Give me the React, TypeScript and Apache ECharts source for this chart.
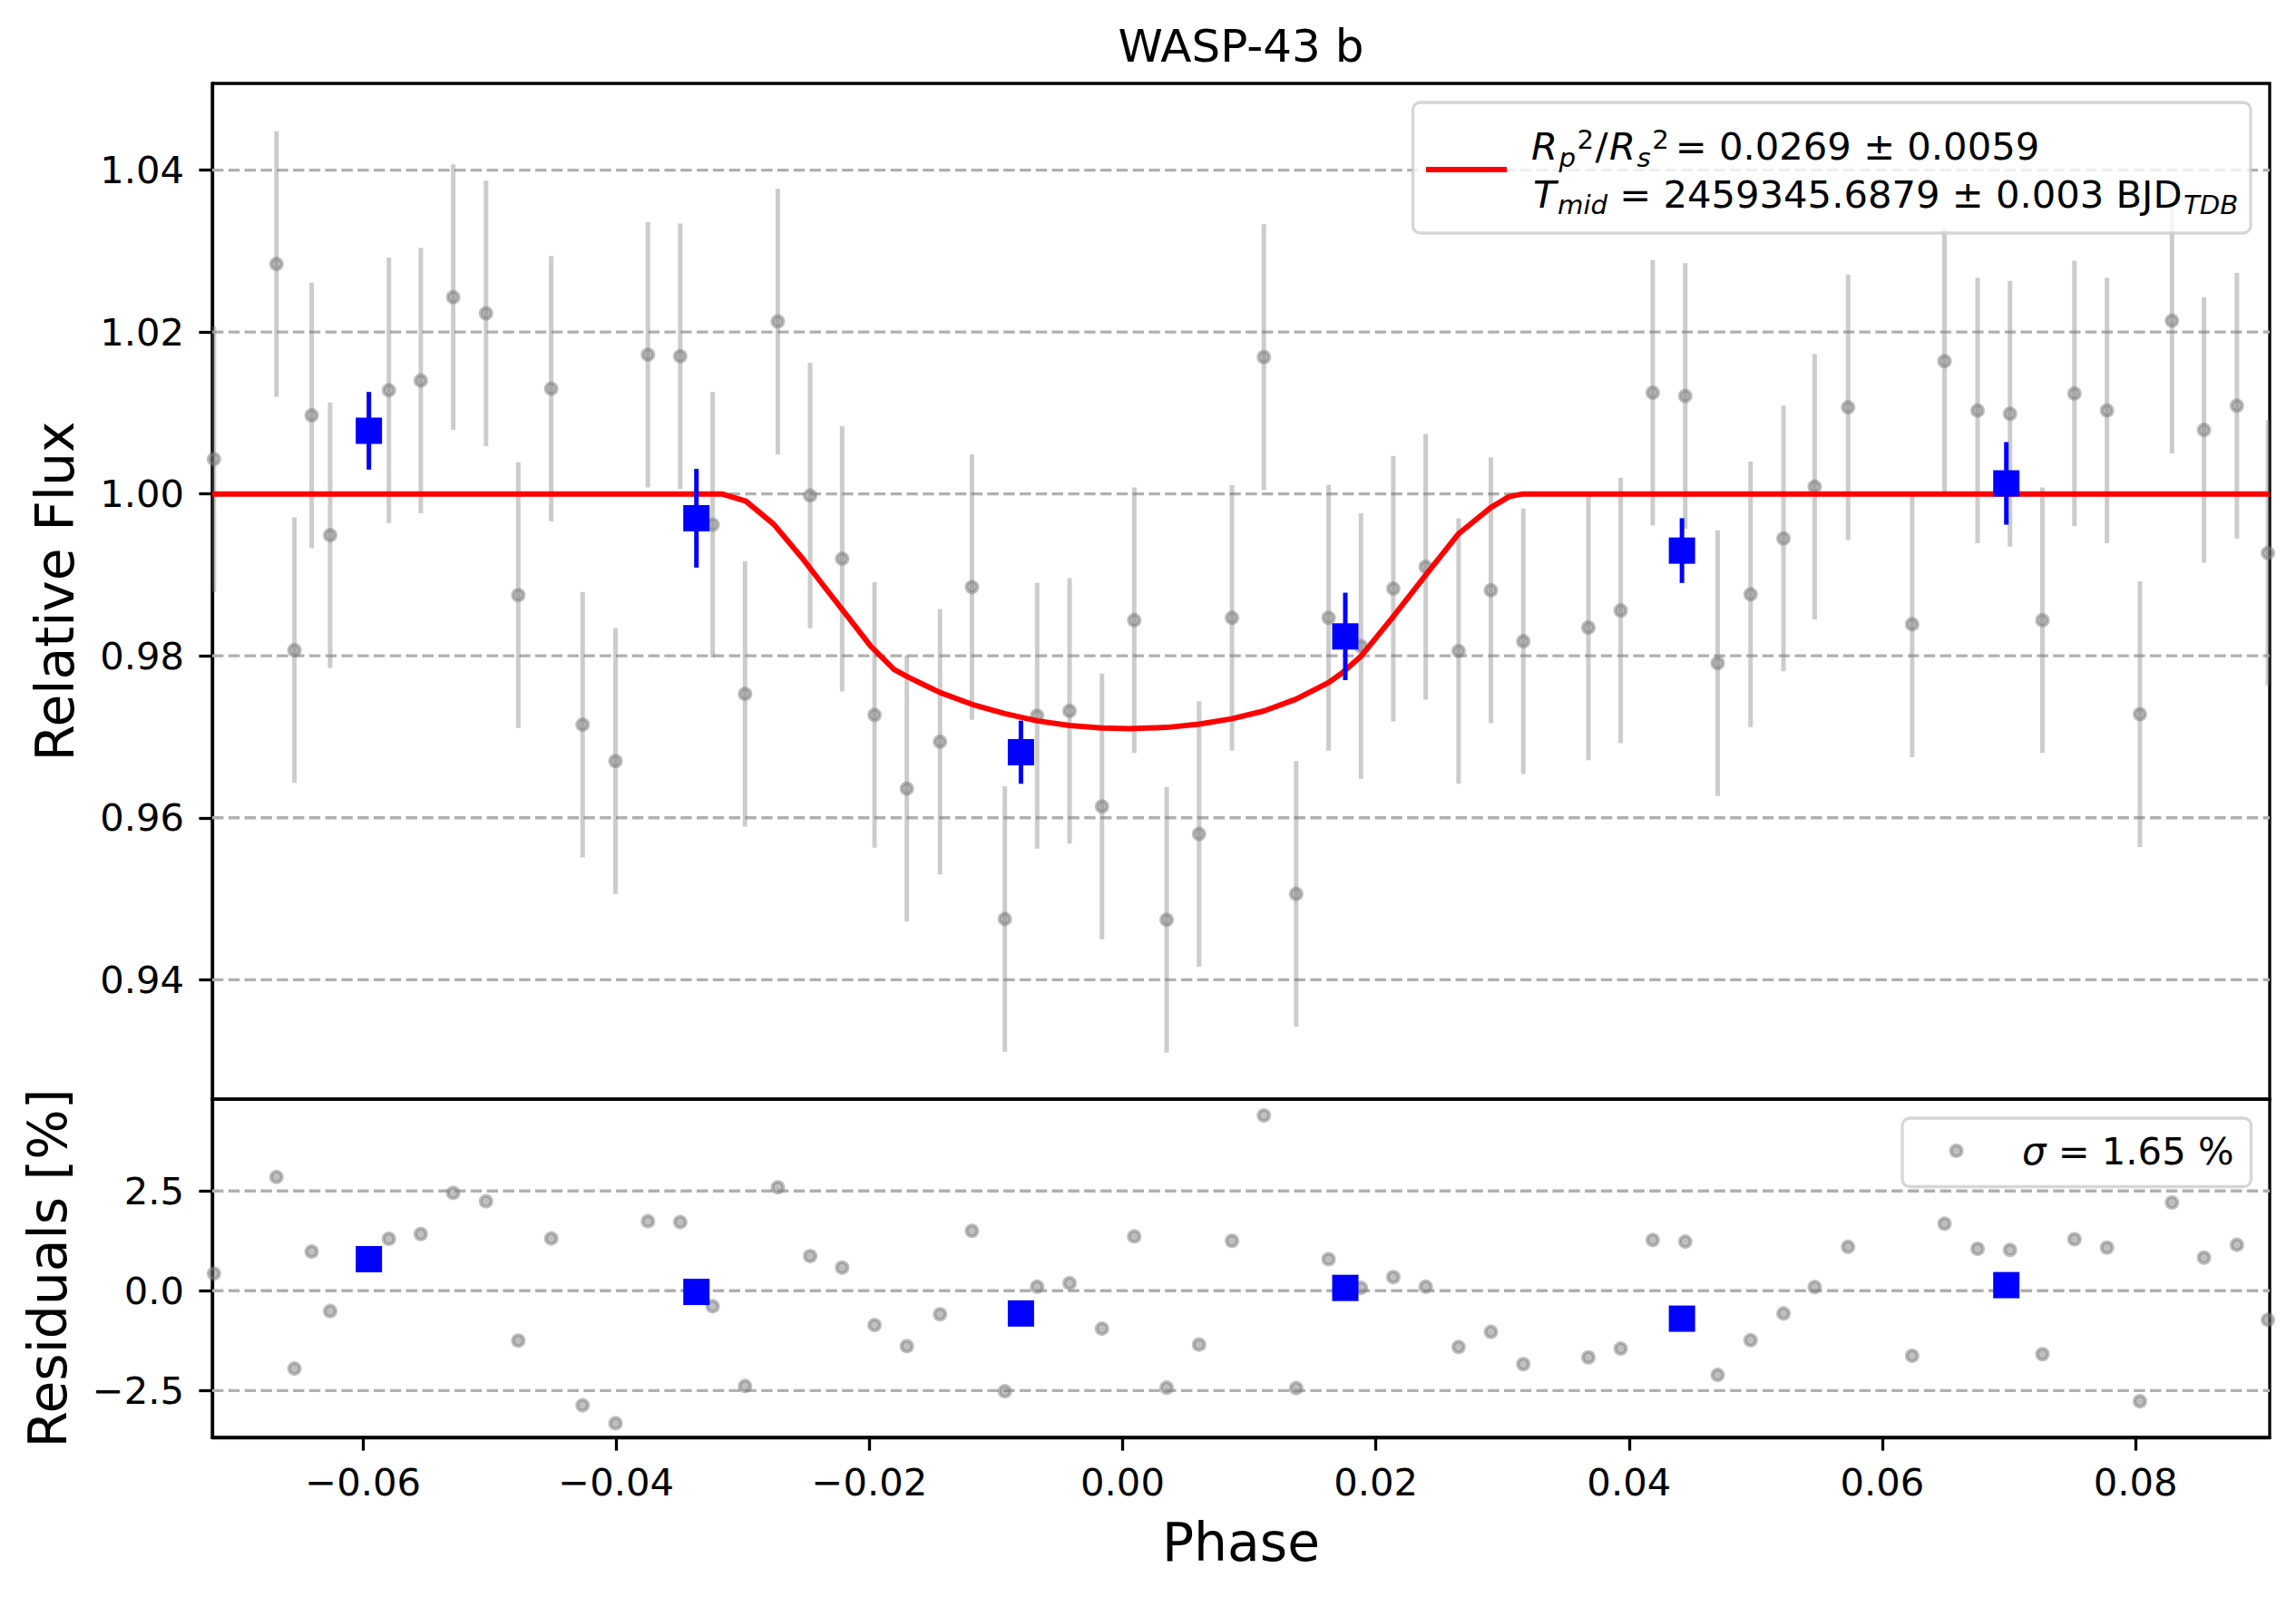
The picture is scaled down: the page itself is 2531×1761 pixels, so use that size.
import React, { useEffect, useRef } from "react";
import * as echarts from "echarts";

// ---------- data ----------
const phase = [
  -0.07177, -0.06683, -0.06541, -0.06405, -0.06259, -0.05795, -0.05543, -0.05287,
  -0.05028, -0.04773, -0.04513, -0.04265, -0.04005, -0.03749, -0.03494, -0.03238,
  -0.02982, -0.02723, -0.02468, -0.02215, -0.01959, -0.01704, -0.01442, -0.0119,
  -0.0093, -0.00675, -0.00419, -0.00163, 0.00092, 0.00348, 0.00604, 0.00864,
  0.01116, 0.01371, 0.01627, 0.01883, 0.02138, 0.02394, 0.02654, 0.02909,
  0.03165, 0.03679, 0.03934, 0.04187, 0.04444, 0.047, 0.0496, 0.0522,
  0.05466, 0.0573, 0.06236, 0.06492, 0.06753, 0.07009, 0.07265, 0.07518,
  0.07775, 0.08035, 0.08288, 0.08541, 0.08801, 0.09046,
];
const flux = [
  1.0043, 1.0284, 0.9807, 1.0097, 0.9949, 1.0128, 1.014, 1.0243,
  1.0223, 0.9875, 1.013, 0.9715, 0.967, 1.0172, 1.017, 0.9962,
  0.9753, 1.0213, 0.9998, 0.992, 0.9727, 0.9636, 0.9694, 0.9885,
  0.9475, 0.9726, 0.9732, 0.9614, 0.9844, 0.9474, 0.958, 0.9847,
  1.0169, 0.9506, 0.9847, 0.9812, 0.9883, 0.991, 0.9806, 0.9881,
  0.9818, 0.9835, 0.9856, 1.0125, 1.0121, 0.9791, 0.9876, 0.9945,
  1.0009, 1.0107, 0.9839, 1.0164, 1.0103, 1.0099, 0.9844, 1.0124,
  1.0103, 0.9728, 1.0214, 1.0079, 1.0109, 0.9927,
];
const FLUX_ERR = 0.0164;
const residual = [
  0.43, 2.85, -1.95, 0.98, -0.51, 1.3, 1.42, 2.45,
  2.24, -1.25, 1.31, -2.87, -3.32, 1.74, 1.72, -0.39,
  -2.39, 2.59, 0.87, 0.58, -0.86, -1.39, -0.59, 1.5,
  -2.52, 0.1, 0.19, -0.95, 1.36, -2.43, -1.35, 1.25,
  4.39, -2.44, 0.79, 0.07, 0.34, 0.1, -1.41, -1.03,
  -1.84, -1.67, -1.45, 1.27, 1.23, -2.11, -1.24, -0.57,
  0.09, 1.1, -1.63, 1.68, 1.05, 1.02, -1.59, 1.29,
  1.08, -2.77, 2.21, 0.83, 1.15, -0.73,
];

const binPhase = [-0.05953, -0.03366, -0.00803, 0.01759, 0.04418, 0.0698];
const binFlux = [1.0078, 0.997, 0.9681, 0.9824, 0.993, 1.0013];
const binErr = [0.0048, 0.0061, 0.0039, 0.0054, 0.004, 0.0051];
const binResid = [0.79, -0.03, -0.57, 0.07, -0.7, 0.14];

const modelPhase = [
  -0.0719, -0.03165, -0.02975, -0.02755, -0.02536, -0.02354, -0.02171, -0.01989,
  -0.01806, -0.01697, -0.01442, -0.01187, -0.0093, -0.00675, -0.00419, -0.00163,
  0.00056, 0.00348, 0.00604, 0.0086, 0.01116, 0.01371, 0.01627, 0.01737,
  0.01883, 0.02138, 0.02394, 0.0265, 0.02906, 0.03052, 0.03162, 0.0906,
];
const modelFlux = [
  1.0, 1.0, 0.9991, 0.99625, 0.99218, 0.98851, 0.98485, 0.98118,
  0.97833, 0.9774, 0.97547, 0.974, 0.97286, 0.97197, 0.9714, 0.97108,
  0.971, 0.97116, 0.97157, 0.97222, 0.97319, 0.97466, 0.9767, 0.97792,
  0.97996, 0.98485, 0.98998, 0.99503, 0.99829, 0.99967, 1.0, 1.0,
];

const phaseTicks = [-0.06, -0.04, -0.02, 0.0, 0.02, 0.04, 0.06, 0.08];
const fluxTicks = [0.94, 0.96, 0.98, 1.0, 1.02, 1.04];
const residTicks = [-2.5, 0.0, 2.5];

const PHASE_MIN = -0.0719;
const PHASE_MAX = 0.0906;
const FLUX_MIN = 0.92525;
const FLUX_MAX = 1.0507;
const RES_MIN = -3.675;
const RES_MAX = 4.8;

// ---------- layout ----------
const W = 2531;
const H = 1761;
const AX_L = 234;
const AX_R = 2502;
const AX_T = 92;
const AX_MID = 1212;
const AX_B = 1585;
const FAMILY = "'DejaVu Sans'";
const FS = 41.7;
const FSS = 29.2;
const LW = 3.3;

const reg = (s: number) => `${s}px ${FAMILY}`;
const ita = (s: number) => `italic ${s}px ${FAMILY}`;

let measureCtx: CanvasRenderingContext2D | null = null;
function mw(text: string, font: string): number {
  if (!measureCtx) {
    const c = document.createElement("canvas");
    measureCtx = c.getContext("2d");
  }
  if (!measureCtx) return text.length * 0.6 * FS;
  measureCtx.font = font;
  return measureCtx.measureText(text).width;
}

const minus = (s: string) => s.replace("-", "\u2212");
const fmt = (d: number) => (v: number) => minus((Math.abs(v) < 1e-12 ? 0 : v).toFixed(d));

function txt(text: string, x: number, baseline: number, font: string, fs: number, align = "left") {
  return {
    type: "text",
    x,
    y: baseline - 0.346 * fs,
    z: 101,
    silent: true,
    style: { text, font, fill: "#000", align, verticalAlign: "middle" },
  };
}

function buildGraphic() {
  const els: any[] = [];
  els.push(txt("WASP-43 b", (AX_L + AX_R) / 2, 68, reg(50), 50, "center"));
  els.push(txt("Phase", (AX_L + AX_R) / 2, 1720.8, reg(58.3), 58.3, "center"));
  els.push({
    type: "text", x: 61, y: (AX_T + AX_MID) / 2, rotation: Math.PI / 2, z: 101, silent: true,
    style: { text: "Relative Flux", font: reg(58.3), fill: "#000", align: "center", verticalAlign: "middle" },
  });
  els.push({
    type: "text", x: 53, y: (AX_MID + AX_B) / 2, rotation: Math.PI / 2, z: 101, silent: true,
    style: { text: "Residuals [%]", font: reg(58.3), fill: "#000", align: "center", verticalAlign: "middle" },
  });

  // ---- model legend ----
  els.push({
    type: "rect", z: 100, silent: true,
    shape: { x: 1557.5, y: 113, width: 923.5, height: 144, r: 8 },
    style: { fill: "rgba(255,255,255,0.8)", stroke: "rgba(204,204,204,0.8)", lineWidth: LW },
  });
  els.push({
    type: "line", z: 101, silent: true,
    shape: { x1: 1572, y1: 187, x2: 1661, y2: 187 },
    style: { stroke: "#ff0000", lineWidth: 6 },
  });
  const GAP = 1.5;
  const b1 = 176;
  const supB = 164;
  const subB = 184;
  let x = 1688;
  // R_p^2
  els.push(txt("R", x, b1, ita(FS), FS));
  x += mw("R", ita(FS)) + GAP;
  els.push(txt("p", x, subB, ita(FSS), FSS));
  x += mw("p", ita(FSS)) + GAP;
  els.push(txt("2", x, supB, reg(FSS), FSS));
  x += mw("2", reg(FSS)) + GAP;
  // /
  els.push(txt("/", x, b1, reg(FS), FS));
  x += mw("/", reg(FS)) + GAP;
  // R_s^2
  els.push(txt("R", x, b1, ita(FS), FS));
  x += mw("R", ita(FS)) + GAP;
  els.push(txt("s", x, subB, ita(FSS), FSS));
  x += mw("s", ita(FSS)) + GAP;
  els.push(txt("2", x, supB, reg(FSS), FSS));
  x += mw("2", reg(FSS)) + 7;
  els.push(txt("= 0.0269 \u00b1 0.0059", x, b1, reg(FS), FS));

  const b2 = 229.3;
  x = 1690;
  els.push(txt("T", x, b2, ita(FS), FS));
  x += mw("T", ita(FS)) + GAP;
  els.push(txt("mid", x, b2 + 7, ita(FSS), FSS));
  x += mw("mid", ita(FSS)) + mw(" ", reg(FS));
  const rest2 = "= 2459345.6879 \u00b1 0.003 BJD";
  els.push(txt(rest2, x, b2, reg(FS), FS));
  x += mw(rest2, reg(FS)) + GAP;
  els.push(txt("TDB", x, b2 + 7, ita(FSS), FSS));

  // ---- residual legend ----
  els.push({
    type: "rect", z: 100, silent: true,
    shape: { x: 2097, y: 1233, width: 384.5, height: 75.5, r: 8 },
    style: { fill: "rgba(255,255,255,0.8)", stroke: "rgba(204,204,204,0.8)", lineWidth: LW },
  });
  els.push({
    type: "circle", z: 101, silent: true,
    shape: { cx: 2156.6, cy: 1269, r: 6 },
    style: { fill: "rgba(128,128,128,0.5)", stroke: "rgba(128,128,128,0.5)", lineWidth: 4 },
  });
  const b3 = 1284.2;
  x = 2229;
  els.push({
    type: "text", x, y: b3 - 0.346 * FS, z: 101, silent: true,
    style: {
      text: "{s|\u03c3}{n| = 1.65 %}",
      fill: "#000", align: "left", verticalAlign: "middle",
      rich: { s: { font: ita(FS), fill: "#000" }, n: { font: reg(FS), fill: "#000" } },
    },
  });
  return els;
}

function errRender(color: string, width: number) {
  return (params: any, api: any) => {
    const px = api.value(0);
    const py = api.value(1);
    const e = api.value(2);
    const a = api.coord([px, py - e]);
    const b = api.coord([px, py + e]);
    return {
      type: "line",
      shape: { x1: a[0], y1: a[1], x2: b[0], y2: b[1] },
      style: { stroke: color, lineWidth: width },
    };
  };
}

function gridRender(params: any, api: any) {
  const cs = params.coordSys;
  const y = api.coord([api.value(0), api.value(1)])[1];
  return {
    type: "line",
    shape: { x1: cs.x, y1: y, x2: cs.x + cs.width, y2: y },
    style: { stroke: "#b0b0b0", lineWidth: LW, lineDash: [12.4, 5.4] },
  };
}

function buildOption() {
  const labelStyle = { color: "#000", fontSize: FS, fontFamily: FAMILY };
  const axisLineStyle = { color: "#000", width: LW };
  const grayFill = "rgba(128,128,128,0.5)";

  return {
    animation: false,
    backgroundColor: "#ffffff",
    grid: [
      { left: AX_L, top: AX_T, width: AX_R - AX_L, height: AX_MID - AX_T, show: true, borderColor: "#000", borderWidth: LW, backgroundColor: "transparent", containLabel: false },
      { left: AX_L, top: AX_MID, width: AX_R - AX_L, height: AX_B - AX_MID, show: true, borderColor: "#000", borderWidth: LW, backgroundColor: "transparent", containLabel: false },
    ],
    xAxis: [
      {
        type: "value", gridIndex: 0, min: PHASE_MIN, max: PHASE_MAX,
        axisLine: { show: false, onZero: false }, axisTick: { show: false }, axisLabel: { show: false }, splitLine: { show: false },
      },
      {
        type: "value", gridIndex: 1, min: PHASE_MIN, max: PHASE_MAX,
        axisLine: { show: true, onZero: false, lineStyle: axisLineStyle },
        axisTick: { show: true, customValues: phaseTicks, length: 14.6, inside: false, lineStyle: axisLineStyle },
        axisLabel: { show: true, customValues: phaseTicks, margin: 28, formatter: fmt(2), ...labelStyle },
        splitLine: { show: false },
      },
    ],
    yAxis: [
      {
        type: "value", gridIndex: 0, min: FLUX_MIN, max: FLUX_MAX,
        axisLine: { show: true, onZero: false, lineStyle: axisLineStyle },
        axisTick: { show: true, customValues: fluxTicks, length: 14.6, inside: false, lineStyle: axisLineStyle },
        axisLabel: { show: true, customValues: fluxTicks, margin: 31, formatter: fmt(2), ...labelStyle },
        splitLine: { show: false },
      },
      {
        type: "value", gridIndex: 1, min: RES_MIN, max: RES_MAX,
        axisLine: { show: true, onZero: false, lineStyle: axisLineStyle },
        axisTick: { show: true, customValues: residTicks, length: 14.6, inside: false, lineStyle: axisLineStyle },
        axisLabel: { show: true, customValues: residTicks, margin: 31, formatter: fmt(1), ...labelStyle },
        splitLine: { show: false },
      },
    ],
    graphic: buildGraphic(),
    series: [
      {
        type: "custom", name: "grid0", xAxisIndex: 0, yAxisIndex: 0, silent: true, z: 1,
        data: fluxTicks.map((v) => [PHASE_MIN, v]), encode: { x: 0, y: 1 }, renderItem: gridRender,
      },
      {
        type: "custom", name: "grid1", xAxisIndex: 1, yAxisIndex: 1, silent: true, z: 1,
        data: residTicks.map((v) => [PHASE_MIN, v]), encode: { x: 0, y: 1 }, renderItem: gridRender,
      },
      {
        type: "custom", name: "grayErr", xAxisIndex: 0, yAxisIndex: 0, silent: true, z: 2, clip: true,
        data: phase.map((p, i) => [p, flux[i], FLUX_ERR]), encode: { x: 0, y: 1 },
        renderItem: errRender("rgba(128,128,128,0.4)", 5),
      },
      {
        type: "scatter", name: "data", xAxisIndex: 0, yAxisIndex: 0, silent: true, z: 3, clip: true,
        symbol: "circle", symbolSize: 12,
        itemStyle: { color: grayFill, borderColor: grayFill, borderWidth: 4, opacity: 1 },
        data: phase.map((p, i) => [p, flux[i]]),
      },
      {
        type: "line", name: "model", xAxisIndex: 0, yAxisIndex: 0, silent: true, z: 4, clip: true,
        showSymbol: false, symbol: "none", smooth: false,
        lineStyle: { color: "#ff0000", width: 6, join: "round", opacity: 1 },
        data: modelPhase.map((p, i) => [p, modelFlux[i]]),
      },
      {
        type: "custom", name: "binErr", xAxisIndex: 0, yAxisIndex: 0, silent: true, z: 5, clip: true,
        data: binPhase.map((p, i) => [p, binFlux[i], binErr[i]]), encode: { x: 0, y: 1 },
        renderItem: errRender("#0000ff", 5),
      },
      {
        type: "scatter", name: "binned", xAxisIndex: 0, yAxisIndex: 0, silent: true, z: 6,
        symbol: "rect", symbolSize: 29, itemStyle: { color: "#0000ff", opacity: 1 },
        data: binPhase.map((p, i) => [p, binFlux[i]]),
      },
      {
        type: "scatter", name: "resid", xAxisIndex: 1, yAxisIndex: 1, silent: true, z: 3, clip: true,
        symbol: "circle", symbolSize: 12,
        itemStyle: { color: grayFill, borderColor: grayFill, borderWidth: 4, opacity: 1 },
        data: phase.map((p, i) => [p, residual[i]]),
      },
      {
        type: "scatter", name: "binResid", xAxisIndex: 1, yAxisIndex: 1, silent: true, z: 6,
        symbol: "rect", symbolSize: 29, itemStyle: { color: "#0000ff", opacity: 1 },
        data: binPhase.map((p, i) => [p, binResid[i]]),
      },
    ],
  };
}

export default function App() {
  const ref = useRef<HTMLDivElement>(null);
  useEffect(() => {
    document.body.style.margin = "0";
    if (!ref.current) return;
    const chart = echarts.init(ref.current, null, { renderer: "svg", width: W, height: H });
    chart.setOption(buildOption() as any);
    return () => {
      chart.dispose();
    };
  }, []);
  return (
    <div
      ref={ref}
      style={{ position: "absolute", left: 0, top: 0, width: W, height: H, background: "#ffffff" }}
    />
  );
}
